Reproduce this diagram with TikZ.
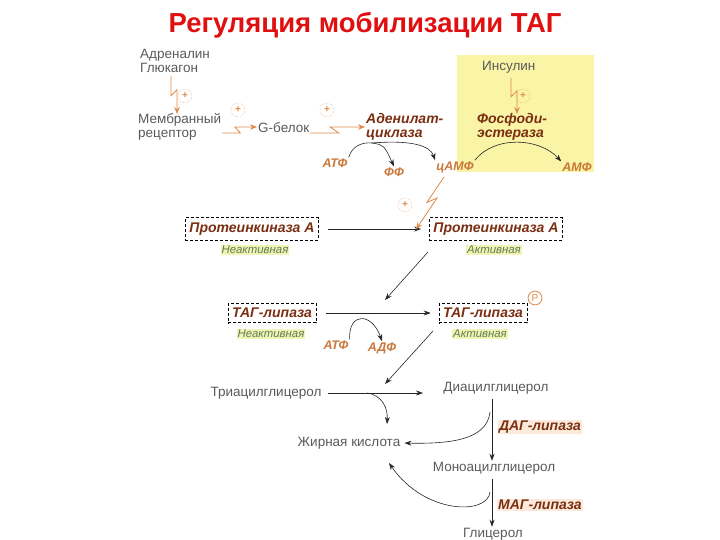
\documentclass[tikz,border=0pt]{standalone}
\usepackage{fontspec}
\setmainfont{Liberation Sans}
\usetikzlibrary{arrows.meta,calc}

\definecolor{titlered}{HTML}{E01010}
\definecolor{enzbrown}{HTML}{7A2E12}
\definecolor{zaporange}{HTML}{E08A4A}
\definecolor{suborange}{HTML}{C9783A}
\definecolor{textgray}{HTML}{5A5A5A}
\definecolor{stategreen}{HTML}{5E7E55}
\definecolor{statefill}{HTML}{F1F4B4}
\definecolor{insfill}{HTML}{FAF4A6}
\definecolor{lipfill}{HTML}{FBEAD9}

\tikzset{
  lbl/.style={text=textgray, font=\fontsize{13.5}{13.5}\selectfont, inner sep=1pt},
  enz/.style={text=enzbrown, font=\fontsize{14}{13.5}\selectfont\bfseries\itshape, inner sep=1pt},
  enzbox/.style={enz, draw=black, densely dashed, thick, inner xsep=4pt, inner ysep=5pt},
  state/.style={text=stategreen, font=\fontsize{11.4}{12}\selectfont\itshape, fill=statefill, inner sep=1pt},
  sub/.style={text=suborange, font=\fontsize{12.5}{13}\selectfont\bfseries\itshape, inner sep=1pt},
  arr/.style={black!85, semithick, -{Stealth[length=7pt,width=5pt]}},
  zaparr/.style={zaporange, thick, -{Stealth[length=7pt,width=5.5pt]}},
  zap/.style={to path={-- ($(\tikztostart)!0.52!(\tikztotarget)$)
    -- ($(\tikztostart)!0.36!(\tikztotarget)!6pt!90:(\tikztotarget)$)
    -- ($(\tikztotarget)!6pt!-90:(\tikztostart)$)}},
  plus/.style={circle, draw=zaporange, densely dotted, text=zaporange, font=\fontsize{10}{10}\selectfont\bfseries, inner sep=2pt}
}

\begin{document}
\begin{tikzpicture}[x=1pt, y=-1pt]
  \useasboundingbox (0,0) rectangle (720,540);
  \fill[insfill] (457,55) rectangle (594,172);
  \node[text=titlered, font=\fontsize{27.5}{28}\selectfont\bfseries] (title) at (365,25) {Регуляция мобилизации ТАГ};

  \node[lbl, align=left, anchor=west] (horm) at (139,61) {Адреналин\\Глюкагон};
  \node[lbl, align=left, anchor=west] (rec) at (137,127) {Мембранный\\рецептор};
  \node[lbl, anchor=west] (gprot) at (257,128) {G-белок};
  \node[enz, align=left, anchor=west] (ac) at (365,127) {Аденилат-\\циклаза};
  \node[sub] (atp1) at (335,163) {АТФ};
  \node[sub] (pp) at (394,172) {ФФ};
  \node[sub] (camp) at (455,167) {цАМФ};
  \node[lbl, anchor=west] (ins) at (481,67) {Инсулин};
  \node[enz, align=left, anchor=west] (pde) at (476,127) {Фосфоди-\\эстераза};
  \node[sub] (amp) at (577,167) {АМФ};

  \node[plus] (p1) at (185,96) {+};
  \node[plus] (p2) at (238,110) {+};
  \node[plus] (p3) at (327,110) {+};
  \node[plus] (p4) at (523,96) {+};
  \node[plus] (p5) at (405,205) {+};

  \coordinate (z1s) at (171,76);
  \coordinate (z1e) at (171,114);
  \coordinate (z4s) at (511,78);
  \coordinate (z4e) at (511,114);
  \draw[zaparr] (z1s) to[zap] (z1e);
  \draw[zaparr] (rec.east |- 0,133) to[zap] (gprot.west |- 0,133);
  \draw[zaparr] (gprot.east |- 0,133) to[zap] (ac.west |- 0,133);
  \draw[zaparr] (z4s) to[zap] (z4e);

  \coordinate (apex) at (372,143);
  \draw[arr] (atp1.north east) .. controls (352,146) and (362,142) .. (apex) .. controls (384,145) .. (pp.north);
  \draw[arr] (apex) .. controls (410,140) and (430,145) .. (camp.north west);
  \draw[arr] (camp.north east) .. controls (495,135) and (540,138) .. (amp.north west);

  \node[enzbox] (pkai) at (252,229) {Протеинкиназа А};
  \node[enzbox] (pkaa) at (496,229) {Протеинкиназа А};
  \node[state] (pkais) at (255,250) {Неактивная};
  \node[state] (pkaas) at (494,250) {Активная};
  \coordinate (pkahit) at (411,226);
  \coordinate (campout) at (444,177);
  \draw[arr, shorten <=9pt, shorten >=8pt] (pkai) -- (pkaa);
  \draw[zaparr] (campout) to[zap] (pkahit);

  \node[enzbox] (tagi) at (272,313) {ТАГ-липаза};
  \node[enzbox] (taga) at (483,313) {ТАГ-липаза};
  \node[circle, draw=zaporange, thick, text=zaporange, font=\fontsize{10}{10}\selectfont, inner sep=1.5pt] (phos) at (535,298) {P};
  \node[state] (tagis) at (271,334) {Неактивная};
  \node[state] (tagas) at (480,334) {Активная};
  \node[sub] (atp2) at (336,345) {АТФ};
  \node[sub] (adp) at (382,348) {АДФ};
  \draw[arr, shorten <=10pt, shorten >=8pt] (tagi) -- (taga);
  \draw[arr] (atp2.north east) .. controls (348,312) and (372,312) .. (adp.north);
  \draw[arr] (428,252) -- (385,300);

  \node[lbl] (tag) at (266,393) {Триацилглицерол};
  \node[lbl] (dag) at (496,388) {Диацилглицерол};
  \node[lbl] (fa) at (349,443) {Жирная кислота};
  \node[lbl] (mag) at (494,468) {Моноацилглицерол};
  \node[lbl] (gly) at (493,534) {Глицерол};
  \node[enz, fill=lipfill] (dagl) at (540,427) {ДАГ-липаза};
  \node[enz, fill=lipfill] (magl) at (540,505) {МАГ-липаза};

  \draw[arr] (433,331) -- (385,384);
  \coordinate (tagend) at (423,393);
  \coordinate (tagbr) at (367,393);
  \coordinate (fain1) at (387,424);
  \coordinate (dagbr) at (490,412);
  \coordinate (magbr) at (490,492);
  \coordinate (fain3) at (389,463);
  \draw[arr, shorten <=5pt] (tag.east) -- (tagend);
  \draw[arr] (tagbr) .. controls (382,395) and (388,408) .. (fain1);
  \draw[arr, shorten <=4pt] (dag.south -| 492,0) -- (mag.north -| 492,0);
  \draw[arr, shorten >=3pt] (dagbr) .. controls (487,440) and (450,444) .. (fa.east);
  \draw[arr, shorten <=4pt] (mag.south -| 492,0) -- (gly.north -| 492,0);
  \draw[arr] (magbr) .. controls (488,515) and (425,515) .. (fain3);
\end{tikzpicture}
\end{document}
